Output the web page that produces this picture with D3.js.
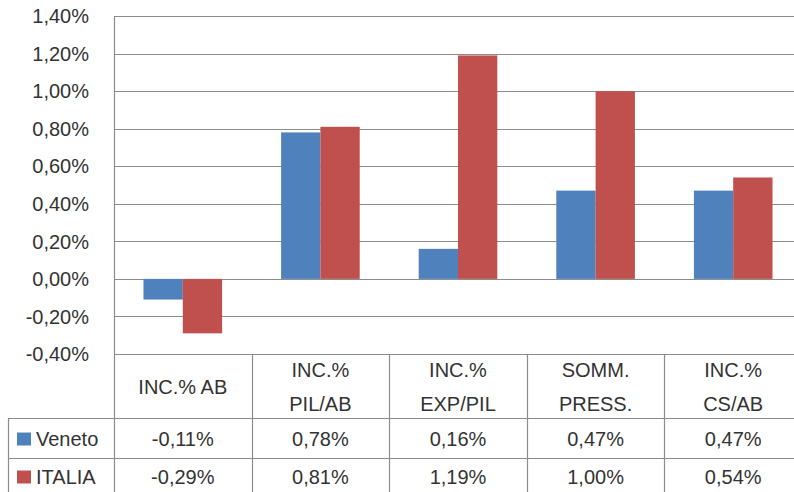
<!DOCTYPE html>
<html><head><meta charset="utf-8">
<script src="https://cdn.jsdelivr.net/npm/d3@7/dist/d3.min.js"></script>
<style>body{margin:0;background:#fff}svg{display:block}</style>
</head><body>
<svg id="c" width="794" height="492"></svg>
<script>
const categories = [["INC.% AB"],["INC.%","PIL/AB"],["INC.%","EXP/PIL"],["SOMM.","PRESS."],["INC.%","CS/AB"]];
const catKeys = ["INC.% AB","INC.% PIL/AB","INC.% EXP/PIL","SOMM. PRESS.","INC.% CS/AB"];
const seriesNames = ["Veneto","ITALIA"];
const veneto = [-0.11, 0.78, 0.16, 0.47, 0.47];
const italia = [-0.29, 0.81, 1.19, 1.00, 0.54];
const yTicks = [-0.4,-0.2,0,0.2,0.4,0.6,0.8,1.0,1.2,1.4];
const colors = ["#4F81BD","#C0504D"];

(function(){
const locale = d3.formatLocale({decimal:",",thousands:".",grouping:[3],currency:["","€"],minus:"-"});
const fmt = v => locale.format(".2f")(v) + "%";

const svg = d3.select("#c");
const font = "Liberation Sans, Arial, sans-serif";
const fs = 20;
const txt = "#333333";
const grid = "#8c8c8c";

const pLeft = 114, step = 137.6, pTop = 16, pBottom = 354;
const x0 = d3.scaleBand().domain(catKeys).range([pLeft, pLeft + step*catKeys.length]).paddingInner(0).paddingOuter(0);
const x1 = d3.scaleBand().domain(seriesNames).range([0, x0.bandwidth()]).paddingInner(0).paddingOuter(0.75);
const y = d3.scaleLinear().domain([-0.4, 1.4]).range([pBottom, pTop]);

svg.append("g").selectAll("line").data(yTicks).join("line")
  .attr("x1", pLeft).attr("x2", 794).attr("y1", d=>Math.round(y(d))+0.5).attr("y2", d=>Math.round(y(d))+0.5)
  .attr("stroke", grid).attr("stroke-width", 1.2);

svg.append("g").selectAll("text").data(yTicks).join("text")
  .attr("x", 89).attr("y", d=>y(d)).attr("dy","0.36em").attr("text-anchor","end")
  .attr("font-family", font).attr("font-size", fs).attr("fill", txt).text(d=>fmt(d));

const data = [veneto, italia];
const g = svg.append("g");
seriesNames.forEach((s, si) => {
  g.selectAll("rect.s"+si).data(data[si]).join("rect").attr("class","s"+si)
    .attr("x", (d,i)=>x0(catKeys[i]) + x1(s))
    .attr("width", x1.bandwidth())
    .attr("y", d=>y(Math.max(0,d)))
    .attr("height", d=>Math.abs(y(d)-y(0)))
    .attr("fill", colors[si]);
});

const tHead = 354, r1 = 418, r2 = 458, tBottom = 498, tLeft = 8;
const L = svg.append("g").attr("stroke", grid).attr("stroke-width", 1.2);
L.append("line").attr("x1", pLeft).attr("x2", 794).attr("y1", tHead+0.5).attr("y2", tHead+0.5);
[r1, r2].forEach(r => L.append("line").attr("x1", tLeft).attr("x2", 794).attr("y1", r+0.5).attr("y2", r+0.5));
L.append("line").attr("x1", tLeft+0.5).attr("x2", tLeft+0.5).attr("y1", r1).attr("y2", tBottom);
L.append("line").attr("x1", pLeft+0.5).attr("x2", pLeft+0.5).attr("y1", pTop).attr("y2", tBottom);
catKeys.forEach(k => {
  const xr = Math.round(x0(k) + x0.bandwidth()) + 0.5;
  L.append("line").attr("x1", xr).attr("x2", xr).attr("y1", tHead).attr("y2", tBottom);
});

const T = svg.append("g").attr("font-family", font).attr("font-size", fs).attr("fill", txt).attr("text-anchor","middle");
categories.forEach((lines, i) => {
  const cx = x0(catKeys[i]) + x0.bandwidth()/2;
  const cy = (tHead + r1)/2 + 0.5;
  const lh = 34;
  lines.forEach((ln, j) => {
    T.append("text").attr("x", cx).attr("y", cy + (j - (lines.length-1)/2)*lh).attr("dy","0.36em").text(ln);
  });
});
const rowY = [439, 477];
data.forEach((arr, si) => {
  arr.forEach((v, i) => {
    T.append("text").attr("x", x0(catKeys[i]) + x0.bandwidth()/2).attr("y", rowY[si]).attr("dy","0.36em").text(fmt(v));
  });
  svg.append("rect").attr("x", 17).attr("y", rowY[si]-6.5).attr("width", 14).attr("height", 13).attr("fill", colors[si]);
  svg.append("text").attr("x", 36).attr("y", rowY[si]).attr("dy","0.36em").attr("font-family", font).attr("font-size", fs).attr("fill", txt).text(seriesNames[si]);
});
})();
</script>
</body></html>
